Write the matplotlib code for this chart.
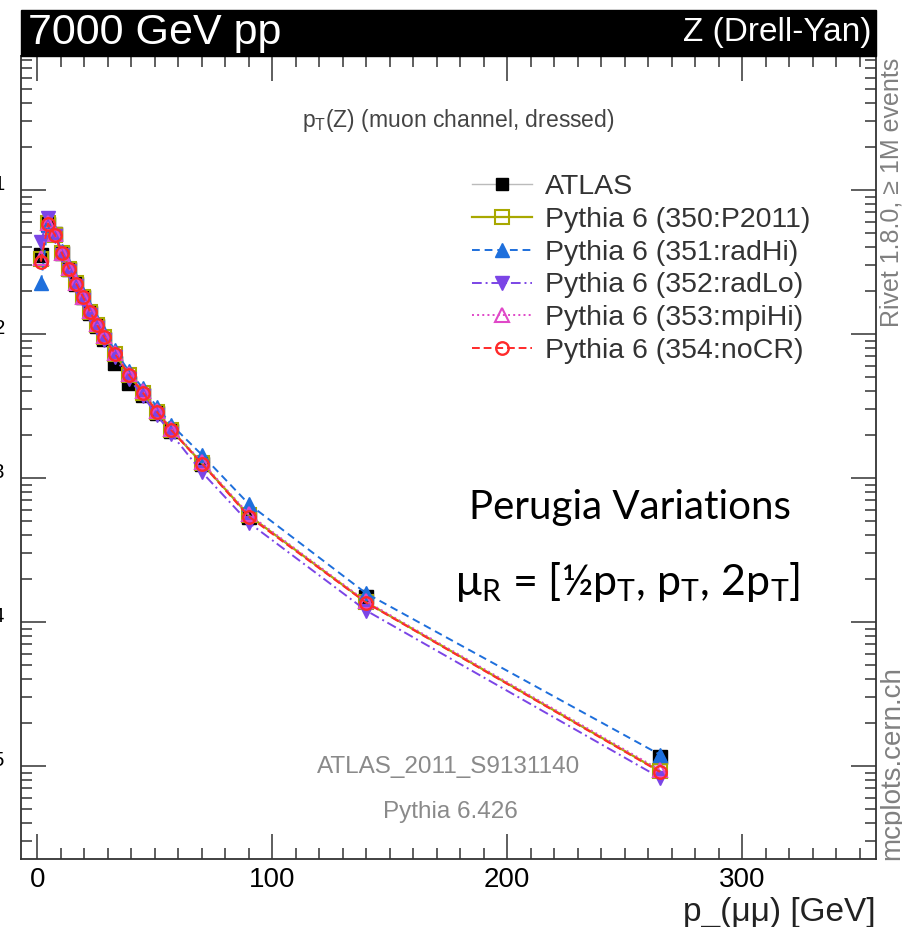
import numpy as np
import matplotlib.pyplot as plt
from matplotlib.lines import Line2D
from matplotlib.patches import Rectangle
from matplotlib.ticker import FixedLocator, LogLocator, NullFormatter, LogFormatterMathtext

plt.rcParams['font.family'] = ['Liberation Sans', 'DejaVu Sans']
plt.rcParams['mathtext.default'] = 'regular'

# p_T(Z) bin centres [GeV]
pt = [1.5, 4.5, 7.5, 10.5, 13.5, 16.5, 19.5, 22.5, 25.5, 28.5, 33, 39, 45, 51, 57, 70, 90, 140, 265]

# 1/sigma dsigma/dpT
atlas = [0.0355, 0.0585, 0.0495, 0.0368, 0.0282, 0.0222, 0.0180, 0.0140, 0.0113, 0.0093,
         0.0063, 0.0046, 0.0038, 0.00285, 0.00213, 0.00125, 0.00054, 0.000148, 1.15e-5]
p2011 = [0.0330, 0.0590, 0.0490, 0.0365, 0.0285, 0.0225, 0.0181, 0.0143, 0.0116, 0.0096,
         0.0073, 0.0052, 0.0039, 0.00288, 0.00216, 0.00127, 0.00055, 0.000137, 9.2e-6]
radhi = [0.0226, 0.0575, 0.0500, 0.0375, 0.0298, 0.0235, 0.0190, 0.0150, 0.0122, 0.0101,
         0.0077, 0.0055, 0.0042, 0.0031, 0.00235, 0.00145, 0.00066, 0.000158, 1.2e-5]
radlo = [0.0437, 0.0640, 0.0480, 0.0355, 0.0275, 0.0215, 0.0172, 0.0136, 0.0110, 0.0091,
         0.0069, 0.0049, 0.0037, 0.00272, 0.00203, 0.00110, 0.00049, 0.000120, 8.3e-6]
mpihi = [0.0335, 0.0595, 0.0492, 0.0366, 0.0287, 0.0226, 0.0182, 0.0144, 0.0117, 0.0097,
         0.0074, 0.0053, 0.0040, 0.00292, 0.00219, 0.00129, 0.00056, 0.000139, 9.4e-6]
nocr = [0.0318, 0.0585, 0.0487, 0.0363, 0.0284, 0.0224, 0.0180, 0.0142, 0.0115, 0.0095,
        0.0073, 0.0052, 0.0039, 0.00287, 0.00215, 0.00126, 0.00054, 0.000136, 9.1e-6]

labels = ['ATLAS', 'Pythia 6 (350:P2011)', 'Pythia 6 (351:radHi)', 'Pythia 6 (352:radLo)',
          'Pythia 6 (353:mpiHi)', 'Pythia 6 (354:noCR)']

W, H = 903, 927
fig = plt.figure(figsize=(W / 100, H / 100), dpi=100)
ax = fig.add_axes([20.7 / W, 1 - 859 / H, (876 - 20.7) / W, (859 - 56) / H])

# MC curves
ax.plot(pt, p2011, color='#a8a800', lw=1.6, ls='-', marker='s', ms=10, mfc='none', mew=1.5, zorder=3)
ax.plot(pt, radhi, color='#1e6fdc', lw=1.4, ls=(0, (4, 2.5)), marker='^', ms=10, zorder=4)
ax.plot(pt, radlo, color='#7b45e6', lw=1.4, ls=(0, (5, 2, 1, 2)), marker='v', ms=10, zorder=5)
ax.plot(pt, mpihi, color='#e048c8', lw=1.4, ls=':', marker='^', ms=10, mfc='none', mew=1.5, zorder=6)
ax.plot(pt, nocr, color='#ff2a2a', lw=1.4, ls=(0, (4, 2)), marker='o', ms=9, mfc='none', mew=1.7, zorder=7)
# data
ax.plot(pt, atlas, ls='none', marker='s', ms=10, color='black', zorder=2)

ax.set_yscale('log')
ax.set_xlim(-7.1, 357)
ax.set_ylim(2.26e-6, 0.853)

ax.xaxis.set_major_locator(FixedLocator([0, 100, 200, 300]))
ax.xaxis.set_minor_locator(FixedLocator(np.arange(10, 360, 10)))
ax.yaxis.set_major_locator(LogLocator(base=10, numticks=20))
ax.yaxis.set_major_formatter(LogFormatterMathtext())
ax.yaxis.set_minor_locator(LogLocator(base=10, subs=np.arange(2, 10), numticks=20))
ax.yaxis.set_minor_formatter(NullFormatter())

ax.tick_params(which='both', direction='in', top=True, right=True, color='#333333', width=1.1)
ax.tick_params(which='major', length=18)
ax.tick_params(which='minor', length=8)
ax.tick_params(axis='x', which='major', labelsize=20, pad=6)
ax.tick_params(axis='y', which='major', labelsize=21, pad=11)
for s in ax.spines.values():
    s.set_linewidth(1.3)
    s.set_color('#333333')

# black title band
fig.patches.append(Rectangle((20.7 / W, 1 - 56 / H), (876 - 20.7) / W, 46 / H,
                             transform=fig.transFigure, color='black', zorder=0))
fig.text(28 / W, 1 - 33 / H, '7000 GeV pp', color='white', fontsize=31, ha='left', va='center')
fig.text(872 / W, 1 - 33 / H, 'Z (Drell-Yan)', color='white', fontsize=24, ha='right', va='center')

fig.text(458 / W, 1 - 120 / H, r'p$_T$(Z) (muon channel, dressed)', color='#444444',
         fontsize=16.5, ha='center', va='center')
fig.text(449 / W, 1 - 767 / H, 'ATLAS_2011_S9131140', color='#8a8a8a', fontsize=17.5,
         ha='center', va='center')
fig.text(450 / W, 1 - 812 / H, 'Pythia 6.426', color='#8a8a8a', fontsize=17.5,
         ha='center', va='center')
fig.text(892 / W, 1 - 58 / H, 'Rivet 1.8.0, \u2265 1M events', color='#808080', fontsize=18,
         rotation=90, ha='center', va='top')
fig.text(892 / W, 1 - 860 / H, 'mcplots.cern.ch', color='#808080', fontsize=20,
         rotation=90, ha='center', va='bottom')
fig.text(876 / W, 1 - 912 / H, 'p_(\u03bc\u03bc) [GeV]', color='#222222', fontsize=24,
         ha='right', va='center')

# annotation
fig.text(630 / W, 1 - 507 / H, 'Perugia Variations', family=['Lato', 'DejaVu Sans'],
         fontsize=29, ha='center', va='center')
fig.text(628 / W, 1 - 582 / H, '\u03bc$_R$ = [\u00bdp$_T$, p$_T$, 2p$_T$]',
         family=['Lato', 'DejaVu Sans'], fontsize=31, ha='center', va='center')

handles = [
    Line2D([], [], color='#bbbbbb', lw=1, marker='s', ms=9, mfc='black', mec='black'),
    Line2D([], [], color='#a8a800', lw=1.6, marker='s', ms=10, mfc='none', mew=1.5),
    Line2D([], [], color='#1e6fdc', lw=1.4, ls=(0, (4, 2.5)), marker='^', ms=10),
    Line2D([], [], color='#7b45e6', lw=1.4, ls=(0, (5, 2, 1, 2)), marker='v', ms=10),
    Line2D([], [], color='#e048c8', lw=1.4, ls=':', marker='^', ms=10, mfc='none', mew=1.5),
    Line2D([], [], color='#ff2a2a', lw=1.4, ls=(0, (4, 2)), marker='o', ms=9, mfc='none', mew=1.7),
]
leg = ax.legend(handles, labels, loc='upper left', bbox_to_anchor=(472 / W, 1 - 174 / H),
                bbox_transform=fig.transFigure, frameon=False, fontsize=20.5,
                handlelength=2.1, handletextpad=0.45, labelspacing=0.24, borderpad=0,
                borderaxespad=0)
for t in leg.get_texts():
    t.set_color('#333333')

fig.savefig('out.png', dpi=100)
